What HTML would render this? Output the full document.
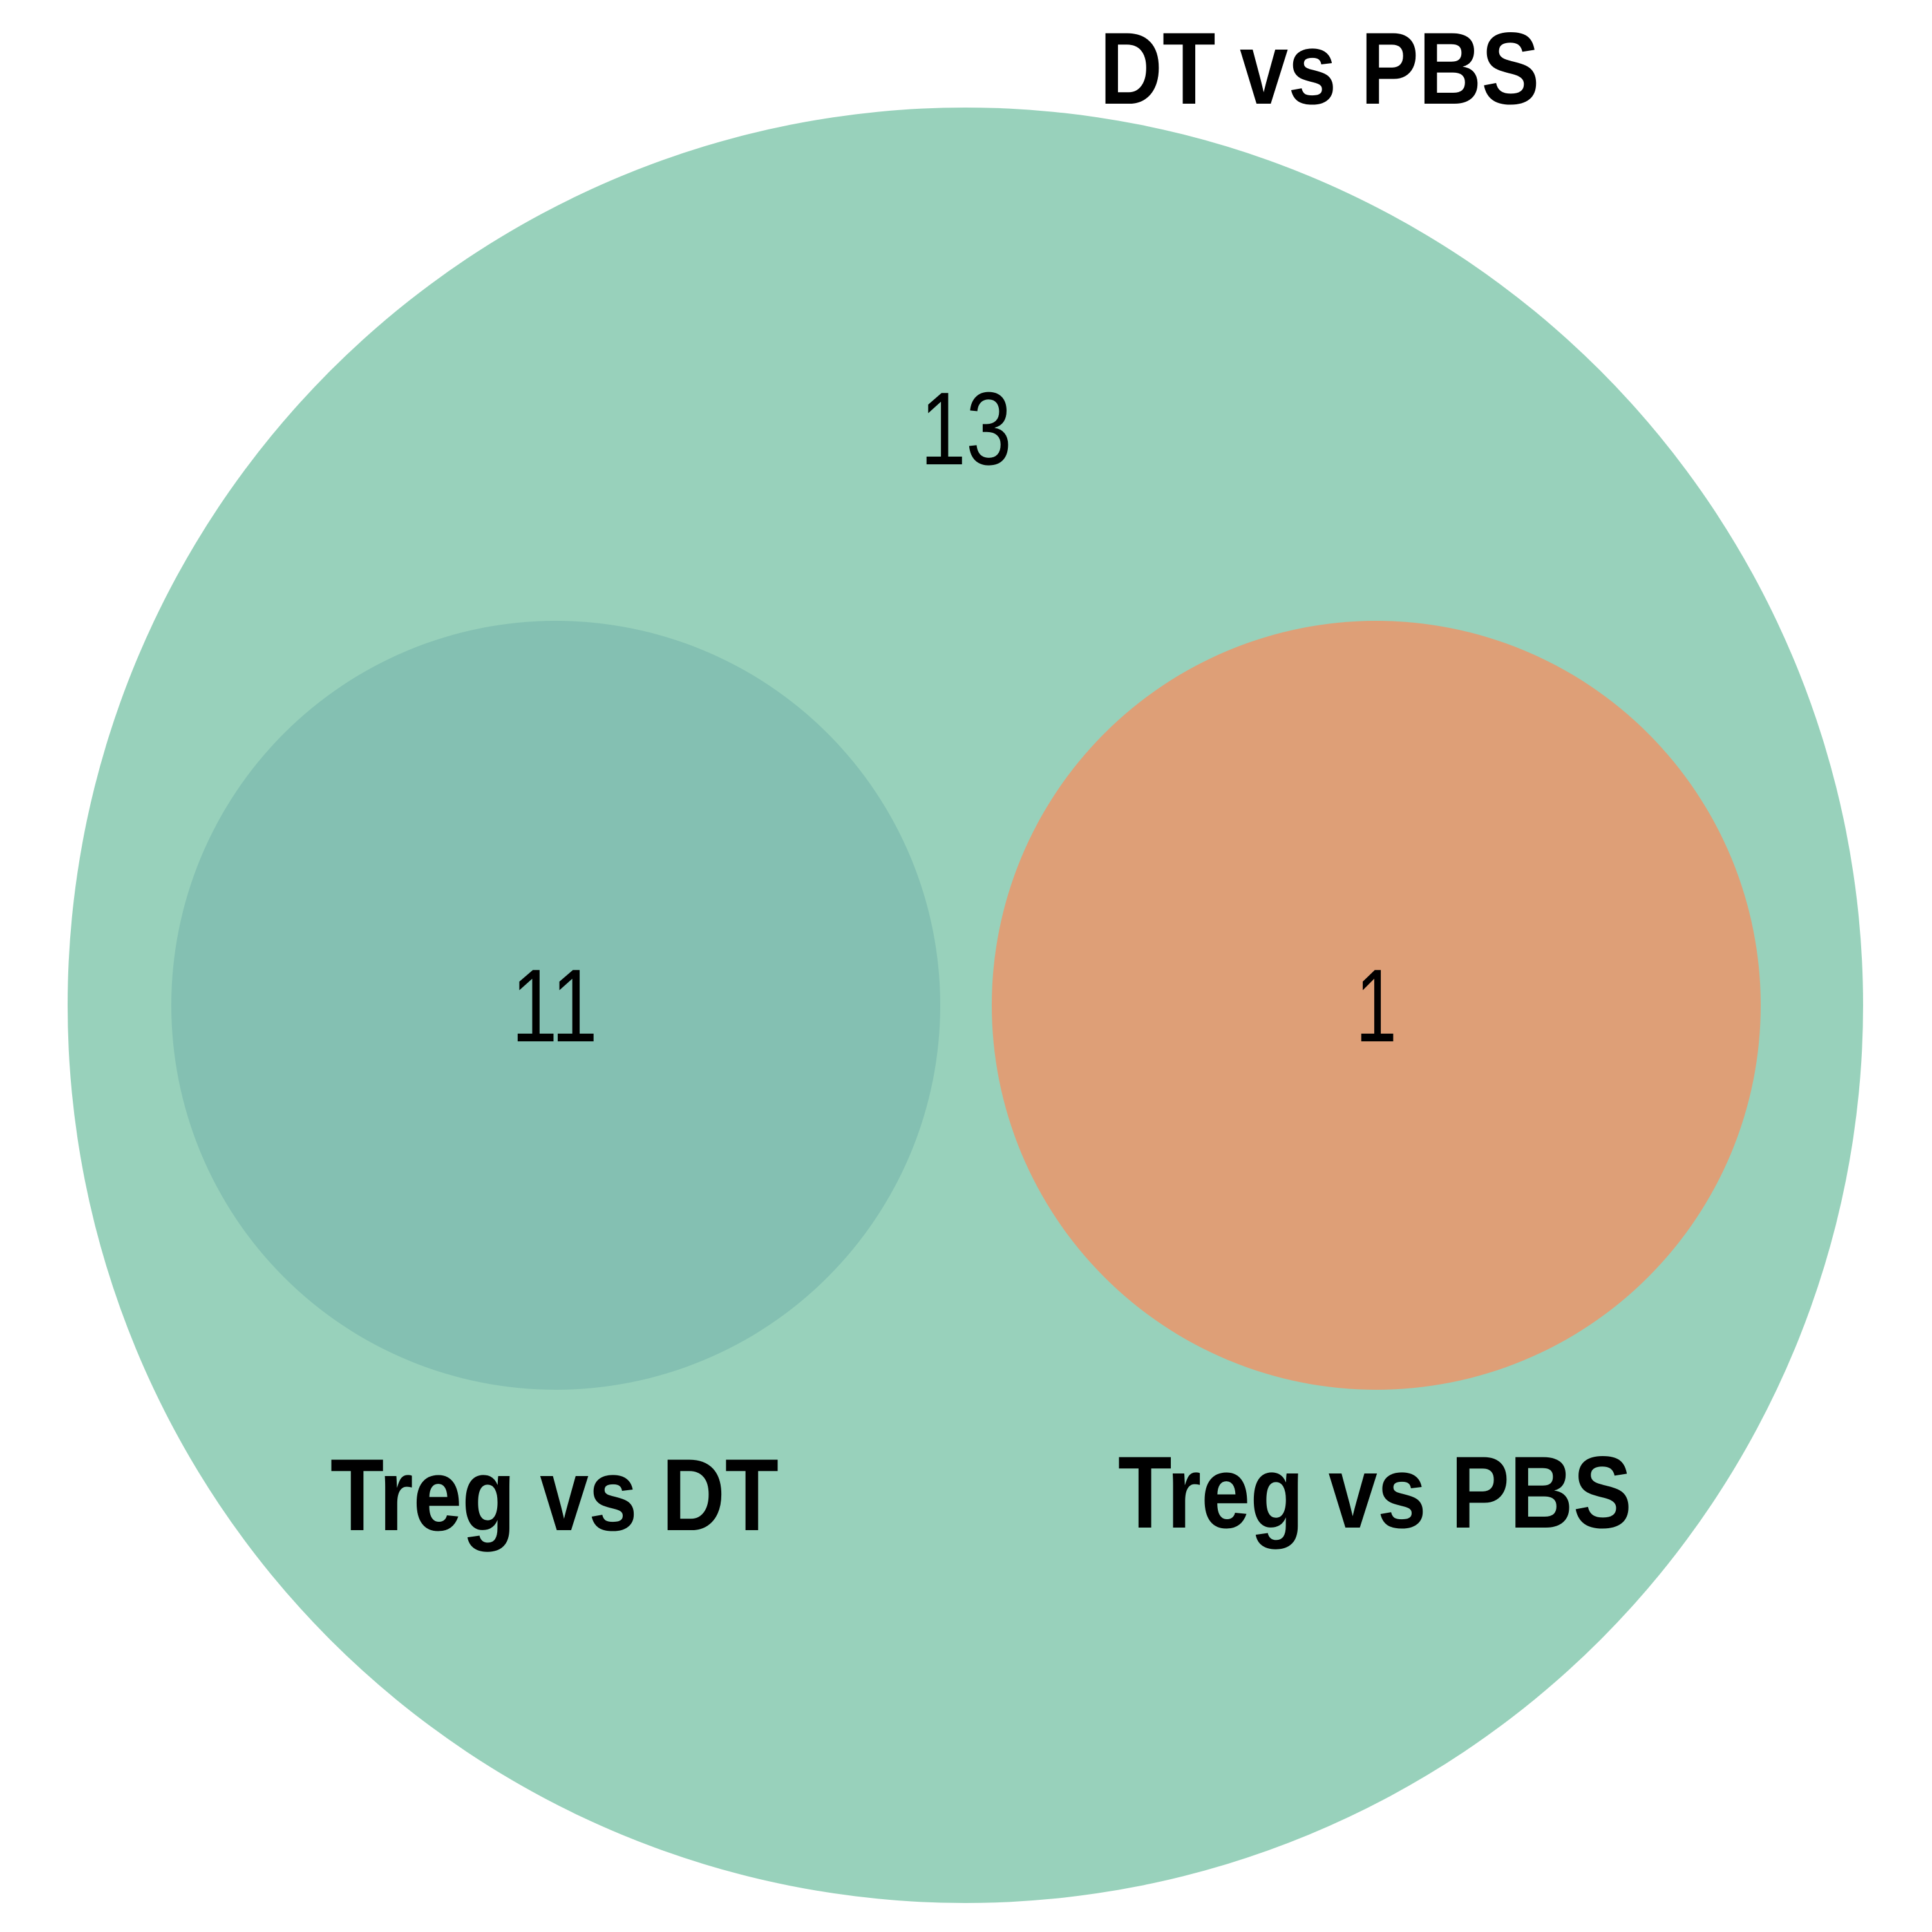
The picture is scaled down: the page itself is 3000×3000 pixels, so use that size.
<!DOCTYPE html>
<html><head><meta charset="utf-8"><style>html,body{margin:0;padding:0;background:#fff}svg{display:block}</style></head>
<body>
<svg width="3000" height="3000" viewBox="0 0 3000 3000" font-family="'Liberation Sans', sans-serif">
<circle cx="1499" cy="1561" r="1394" fill="#98D1BB"/>
<circle cx="863" cy="1561" r="597" fill="#84C0B2"/>
<circle cx="2137" cy="1561" r="597" fill="#DE9F77"/>
<text x="2049" y="161" font-size="159" font-weight="bold" text-anchor="middle" textLength="683" lengthAdjust="spacingAndGlyphs">DT vs PBS</text>
<text x="1500" y="721" font-size="161" text-anchor="middle" textLength="142" lengthAdjust="spacingAndGlyphs">13</text>
<text x="861" y="1617" font-size="161" text-anchor="middle" textLength="134" lengthAdjust="spacingAndGlyphs">11</text>
<text x="2137" y="1617" font-size="161" text-anchor="middle" textLength="64" lengthAdjust="spacingAndGlyphs">1</text>
<text x="861" y="2376" font-size="159" font-weight="bold" text-anchor="middle" textLength="696" lengthAdjust="spacingAndGlyphs">Treg vs DT</text>
<text x="2135" y="2372" font-size="159" font-weight="bold" text-anchor="middle" textLength="798" lengthAdjust="spacingAndGlyphs">Treg vs PBS</text>
</svg>
</body></html>
